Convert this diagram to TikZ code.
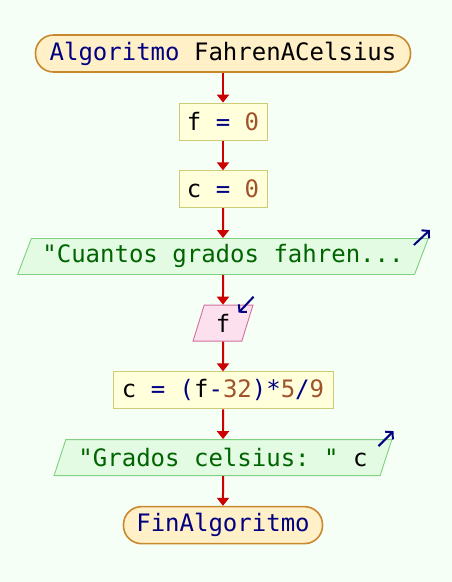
\documentclass[tikz,border=0pt]{standalone}
\usepackage{fontspec}
\setmonofont{DejaVu Sans Mono}
\usepackage{tikz}
\usetikzlibrary{arrows.meta,positioning,shapes.geometric,calc}

\definecolor{bgmint}{HTML}{F6FFF6}
\definecolor{termfill}{HTML}{FFF0C8}
\definecolor{termdraw}{HTML}{C8892E}
\definecolor{procfill}{HTML}{FFFFDC}
\definecolor{procdraw}{HTML}{CCCC77}
\definecolor{outfill}{HTML}{E2FBE2}
\definecolor{outdraw}{HTML}{7FD07F}
\definecolor{infill}{HTML}{FDE0EE}
\definecolor{indraw}{HTML}{D0709C}
\definecolor{kwblue}{HTML}{000080}
\definecolor{numbrown}{HTML}{A0522D}
\definecolor{strgreen}{HTML}{006400}
\definecolor{flowred}{HTML}{CC0000}

\begin{document}
\begin{tikzpicture}
	[
	 x = 1pt, y = 1pt,
	 node distance = 29.8pt,
	 every node/.style = {align=center,
	                      font=\ttfamily\fontsize{24}{28}\selectfont,
	                      inner sep = 3pt
	                     },
	 term/.style = {shape=rectangle, draw=termdraw, fill=termfill,
	                line width=1.6pt, rounded corners=18pt,
	                minimum height=37pt},
	 proc/.style = {shape=rectangle, draw=procdraw, fill=procfill,
	                line width=0.9pt, minimum height=37pt},
	 outp/.style = {trapezium, trapezium stretches=true,
	                draw=outdraw, fill=outfill, line width=0.9pt,
	                trapezium left angle=66, trapezium right angle=114,
	                minimum height=36pt},
	 inp/.style  = {trapezium, trapezium stretches=true,
	                draw=indraw, fill=infill, line width=0.9pt,
	                trapezium left angle=76, trapezium right angle=104,
	                minimum height=36pt},
	 flow/.style = {draw=flowred, line width=2pt,
	                -{Triangle[width=12pt,length=8pt]}},
	 iomark/.style = {draw=kwblue, line width=2pt,
	                -{Straight Barb[length=5pt,width=11pt]}}
	]
	
	\newcommand{\Kw}[1]{\textcolor{kwblue}{#1}}
	\newcommand{\Nm}[1]{\textcolor{numbrown}{#1}}
	\newcommand{\St}[1]{\textcolor{strgreen}{#1}}

	\fill[bgmint] (0,0) rectangle (452,-582);
	\useasboundingbox (0,0) rectangle (452,-582);

	\node [term, minimum width=375pt] (start) at (223,-53.5)
	      {\Kw{Algoritmo} FahrenACelsius};
	\node [proc, minimum width=88pt, below=of start] (fzero)
	      {f \Kw{=} \Nm{0}};
	\node [proc, minimum width=88pt, below=of fzero] (czero)
	      {c \Kw{=} \Nm{0}};
	\node [outp, minimum width=412pt, below=of czero] (ask)
	      {\St{"Cuantos grados fahren...}};
	\node [inp, minimum width=60pt, below=of ask] (readf)
	      {f};
	\node [proc, minimum width=220pt, below=of readf] (calc)
	      {c \Kw{=} \Kw{(}f\Kw{-}\Nm{32}\Kw{)*}\Nm{5}\Kw{/}\Nm{9}};
	\node [outp, minimum width=339pt, below=of calc] (show)
	      {\St{"Grados celsius: "} c};
	\node [term, minimum width=199pt, below=of show] (finish)
	      {\Kw{FinAlgoritmo}};

	\draw [flow] (start) -- (fzero);
	\draw [flow] (fzero) -- (czero);
	\draw [flow] (czero) -- (ask);
	\draw [flow] (ask)   -- (readf);
	\draw [flow] (readf) -- (calc);
	\draw [flow] (calc)  -- (show);
	\draw [flow] (show)  -- (finish);

	% little in/out marks
	\draw [iomark] ([shift={(-15,-7)}]ask.top right corner)
	            -- ([shift={(1,8)}]ask.top right corner);
	\draw [iomark] ([shift={(-14,-7)}]show.top right corner)
	            -- ([shift={(1,8)}]show.top right corner);
	\draw [iomark] ([shift={(0,8)}]readf.top right corner)
	            -- ([shift={(-15,-8)}]readf.top right corner);
\end{tikzpicture}
\end{document}
